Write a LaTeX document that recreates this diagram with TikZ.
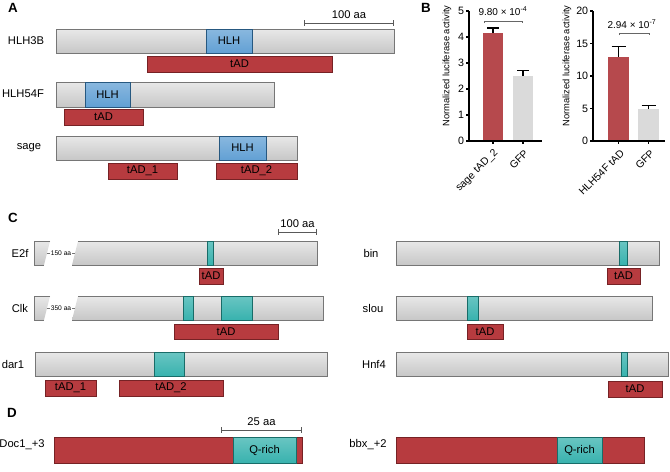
\documentclass[tikz,border=0pt]{standalone}
\usepackage{fontspec}
\setmainfont{Liberation Sans}
\usetikzlibrary{arrows.meta, positioning}

\definecolor{cred}{RGB}{183,59,63}
\definecolor{credline}{RGB}{118,34,37}
\definecolor{cblue}{RGB}{98,160,212}
\definecolor{cblueline}{RGB}{38,88,128}
\definecolor{cteal}{RGB}{56,178,174}
\definecolor{ctealline}{RGB}{24,108,104}
\definecolor{cline}{RGB}{118,118,118}
\definecolor{cbarred}{RGB}{182,73,77}
\definecolor{cbargray}{RGB}{218,218,218}

\tikzset{
  lbl/.style={font=\fontsize{8.4}{10}\selectfont},
  panel/.style={font=\fontsize{10}{12}\selectfont\bfseries},
  gaplbl/.style={font=\fontsize{5}{6}\selectfont, fill=white, inner sep=0.6pt},
  protbar/.style={draw=cline, line width=0.5pt, top color=black!9, bottom color=black!22},
  protfill/.style={top color=black!9, bottom color=black!22},
  hlhbox/.style={draw=cblueline, line width=0.5pt, top color=cblue!75!white, bottom color=cblue},
  tealbox/.style={draw=ctealline, line width=0.5pt, top color=cteal!75!white, bottom color=cteal},
  tadbox/.style={draw=credline, line width=0.4pt, fill=cred},
  scalebar/.style={draw=black!65, line width=0.6pt, arrows={Bar[width=4pt]-Bar[width=4pt]}},
  axisln/.style={line width=0.8pt},
  errbar/.style={line width=0.9pt},
  pbracket/.style={draw=black!60, line width=0.5pt},
  ticklbl/.style={font=\fontsize{8}{9}\selectfont, inner sep=1pt},
  ylab/.style={font=\fontsize{7}{8}\selectfont, rotate=90},
  xlab/.style={font=\fontsize{7.8}{9}\selectfont, rotate=45, anchor=east, inner sep=0.5pt},
  pval/.style={font=\fontsize{7.5}{9}\selectfont}
}

\begin{document}
\begin{tikzpicture}[x=0.75pt, y=-0.75pt]
  \useasboundingbox (0,0) rectangle (670,471);

  % ---------------- A
  \node[panel] (pA) at (13,8) {A};
  \draw[scalebar] (304,23) -- (394,23) node[midway, above, lbl] (sbA) {100 aa};

  % HLH3B
  \node[lbl] (lbl-hlh3b) at (26,41) {HLH3B};
  \draw[protbar] (56,29) rectangle (394,53);
  \draw[hlhbox] (206,29) rectangle (252,53);
  \node[lbl] (hlh3b-hlh) at (229,41) {HLH};
  \draw[tadbox] (147,56) rectangle (332,72);
  \node[lbl] (hlh3b-tad) at (239.5,64) {tAD};

  % HLH54F
  \node[lbl] (lbl-hlh54f) at (23,94) {HLH54F};
  \draw[protbar] (56,82) rectangle (274,107);
  \draw[hlhbox] (85,82) rectangle (130,107);
  \node[lbl] (hlh54f-hlh) at (107.5,94.5) {HLH};
  \draw[tadbox] (64,109) rectangle (143,125);
  \node[lbl] (hlh54f-tad) at (103.5,117) {tAD};

  % sage
  \node[lbl] (lbl-sage) at (29,148) {sage};
  \draw[protbar] (56,136) rectangle (297,160);
  \draw[hlhbox] (219,136) rectangle (266,160);
  \node[lbl] (sage-hlh) at (242.5,148) {HLH};
  \draw[tadbox] (108,163) rectangle (177,179);
  \node[lbl] (sage-tad1) at (142.5,171) {tAD\_1};
  \draw[tadbox] (216,163) rectangle (297,179);
  \node[lbl] (sage-tad2) at (256.5,171) {tAD\_2};

  % ---------------- B
  \node[panel] (pB) at (426,8) {B};

  % left chart
  \node[ylab] (yl-left) at (447,66) {Normalized luciferase activity};
  \begin{scope}[shift={(0,141)}, y=19.5pt]
    \fill[cbarred] (483,0) rectangle (503,4.15);
    \fill[cbargray] (513,0) rectangle (533,2.5);
    \draw[errbar] (493,4.15) -- (493,4.35) (487,4.35) -- (499,4.35);
    \draw[errbar] (523,2.5) -- (523,2.72) (517,2.72) -- (529,2.72);
    \draw[axisln] (469,5) -- (469,0) -- (542,0);
    \foreach \v in {0,...,5}
      \draw[axisln] (469,\v) -- ++(-3,0) node[ticklbl, left] (lt\v) {\v};
    \foreach \t in {493,523}
      \draw[axisln] (\t,0) -- ++(0pt,-2.5pt);
  \end{scope}
  \draw[pbracket] (484,23) -- (484,21) -- (522,21) -- (522,23);
  \node[pval] (pv-left) at (503,11) {9.80 × 10\textsuperscript{-4}};
  \node[xlab] (xl-sage) at (497,151) {sage tAD\_2};
  \node[xlab] (xl-gfp1) at (527,151) {GFP};

  % right chart
  \node[ylab] (yl-right) at (567,66) {Normalized luciferase activity};
  \begin{scope}[shift={(0,141)}, y=4.875pt]
    \fill[cbarred] (608,0) rectangle (629,13.0);
    \fill[cbargray] (638,0) rectangle (659,4.9);
    \draw[errbar] (618.5,13.0) -- (618.5,14.5) (611.5,14.5) -- (625.5,14.5);
    \draw[errbar] (648.5,4.9) -- (648.5,5.5) (641.5,5.5) -- (655.5,5.5);
    \draw[axisln] (593,20) -- (593,0) -- (665,0);
    \foreach \v in {0,5,...,20}
      \draw[axisln] (593,\v) -- ++(-3,0) node[ticklbl, left] (rt\v) {\v};
    \foreach \t in {618.5,648.5}
      \draw[axisln] (\t,0) -- ++(0pt,-2.5pt);
  \end{scope}
  \draw[pbracket] (619,35) -- (619,33) -- (649,33) -- (649,35);
  \node[pval] (pv-right) at (632,24) {2.94 × 10\textsuperscript{-7}};
  \node[xlab] (xl-hlh54f) at (623,151) {HLH54F tAD};
  \node[xlab] (xl-gfp2) at (653,151) {GFP};

  % ---------------- C
  \node[panel] (pC) at (13,218) {C};
  \draw[scalebar] (278,232) -- (317,232) node[midway, above, lbl] (sbC) {100 aa};

  % E2f
  \node[lbl] (lbl-e2f) at (20,253) {E2f};
  \shade[protfill] (34,241) -- (50,241) -- (44,265) -- (34,265) -- cycle;
  \shade[protfill] (78,241) -- (317,241) -- (317,265) -- (72,265) -- cycle;
  \draw[draw=cline, line width=0.5pt] (50,241) -- (34,241) -- (34,265) -- (44,265);
  \draw[draw=cline, line width=0.5pt] (78,241) -- (317,241) -- (317,265) -- (72,265);
  \draw[draw=cline, line width=0.4pt] (47,253) -- (75,253);
  \node[gaplbl] (e2f-gap) at (61,253) {150 aa};
  \draw[tealbox] (207,241) rectangle (213,265);
  \draw[tadbox] (199,268) rectangle (223,284);
  \node[lbl] (e2f-tad) at (211,276) {tAD};

  % Clk
  \node[lbl] (lbl-clk) at (20,308) {Clk};
  \shade[protfill] (34,296) -- (50,296) -- (44,320) -- (34,320) -- cycle;
  \shade[protfill] (78,296) -- (323,296) -- (323,320) -- (72,320) -- cycle;
  \draw[draw=cline, line width=0.5pt] (50,296) -- (34,296) -- (34,320) -- (44,320);
  \draw[draw=cline, line width=0.5pt] (78,296) -- (323,296) -- (323,320) -- (72,320);
  \draw[draw=cline, line width=0.4pt] (47,308) -- (75,308);
  \node[gaplbl] (clk-gap) at (61,308) {350 aa};
  \draw[tealbox] (183,296) rectangle (193,320);
  \draw[tealbox] (221,296) rectangle (252,320);
  \draw[tadbox] (174,324) rectangle (278,339);
  \node[lbl] (clk-tad) at (226,331.5) {tAD};

  % dar1
  \node[lbl] (lbl-dar1) at (13,364) {dar1};
  \draw[protbar] (35,352) rectangle (327,376);
  \draw[tealbox] (154,352) rectangle (184,376);
  \draw[tadbox] (45,380) rectangle (96,396);
  \node[lbl] (dar1-tad1) at (70.5,388) {tAD\_1};
  \draw[tadbox] (119,380) rectangle (223,396);
  \node[lbl] (dar1-tad2) at (171,388) {tAD\_2};

  % bin
  \node[lbl] (lbl-bin) at (371,253) {bin};
  \draw[protbar] (396,241) rectangle (659,265);
  \draw[tealbox] (619,241) rectangle (627,265);
  \draw[tadbox] (607,268) rectangle (640,284);
  \node[lbl] (bin-tad) at (623.5,276) {tAD};

  % slou
  \node[lbl] (lbl-slou) at (373,308) {slou};
  \draw[protbar] (396,296) rectangle (652,320);
  \draw[tealbox] (467,296) rectangle (478,320);
  \draw[tadbox] (467,324) rectangle (503,339);
  \node[lbl] (slou-tad) at (485,331.5) {tAD};

  % Hnf4
  \node[lbl] (lbl-hnf4) at (374,364) {Hnf4};
  \draw[protbar] (396,352) rectangle (668,376);
  \draw[tealbox] (621,352) rectangle (627,376);
  \draw[tadbox] (608,381) rectangle (662,397);
  \node[lbl] (hnf4-tad) at (635,389) {tAD};

  % ---------------- D
  \node[panel] (pD) at (12,413) {D};
  \draw[scalebar] (221,430) -- (302,430) node[midway, above, lbl] (sbD) {25 aa};

  % Doc1_+3
  \node[lbl] (lbl-doc1) at (22,445) {Doc1\_+3};
  \draw[tadbox] (54,437) rectangle (302,463);
  \draw[tealbox] (233,437) rectangle (296,463);
  \node[lbl] (doc1-q) at (264.5,450) {Q-rich};

  % bbx_+2
  \node[lbl] (lbl-bbx) at (368,445) {bbx\_+2};
  \draw[tadbox] (396,437) rectangle (644,463);
  \draw[tealbox] (557,437) rectangle (602,463);
  \node[lbl] (bbx-q) at (579.5,450) {Q-rich};
\end{tikzpicture}
\end{document}
